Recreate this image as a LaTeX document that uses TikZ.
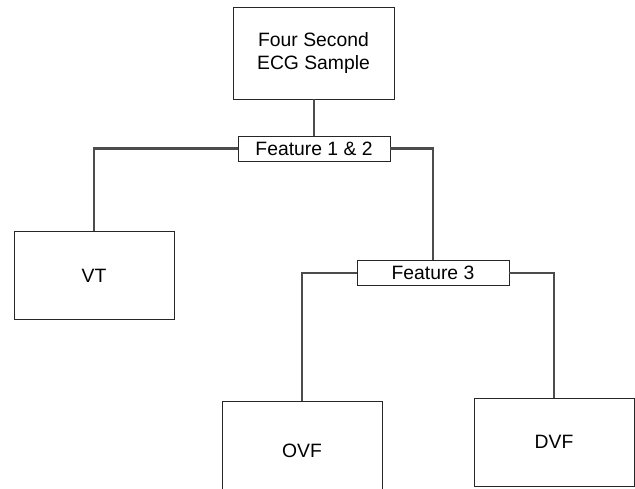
\documentclass[tikz,border=0pt]{standalone}
\usepackage{fontspec}
\setmainfont{Liberation Sans}
\usetikzlibrary{positioning}

\begin{document}
\begin{tikzpicture}[x=0.02cm,y=-0.02cm]
\tikzset{
  leafbox/.style={draw=black!85,line width=0.45pt,minimum width=3.2cm,minimum height=1.76cm,font=\fontsize{11}{13.5}\selectfont,align=center},
  testbox/.style={draw=black!85,line width=0.45pt,minimum width=3.04cm,minimum height=0.5cm,inner sep=1pt,font=\fontsize{11}{13}\selectfont},
  branch/.style={draw=black!70,line width=1.4pt}
}
\useasboundingbox (0,0) rectangle (635,488);
\clip (0,0) rectangle (635,488);
\node[leafbox,minimum width=3.22cm,minimum height=1.84cm] (n_top) at (313.5,53) {Four Second\\ECG Sample};
\node[testbox] (n_f12) at (314,148.5) {Feature 1 \& 2};
\node[leafbox] (n_vt) at (94,275.5) {VT};
\node[testbox] (n_f3) at (433,273) {Feature 3};
\node[leafbox,minimum height=2cm] (n_ovf) at (302,451) {OVF};
\node[leafbox] (n_dvf) at (554,442) {DVF};
\draw[branch] (n_f12.north |- n_top.south) -- (n_f12.north);
\draw[branch] (n_f12.west) -| (n_vt.north);
\draw[branch] (n_f12.east) -| (n_f3.north);
\draw[branch] (n_f3.west) -| (n_ovf.north);
\draw[branch] (n_f3.east) -| (n_dvf.north);
\end{tikzpicture}
\end{document}
